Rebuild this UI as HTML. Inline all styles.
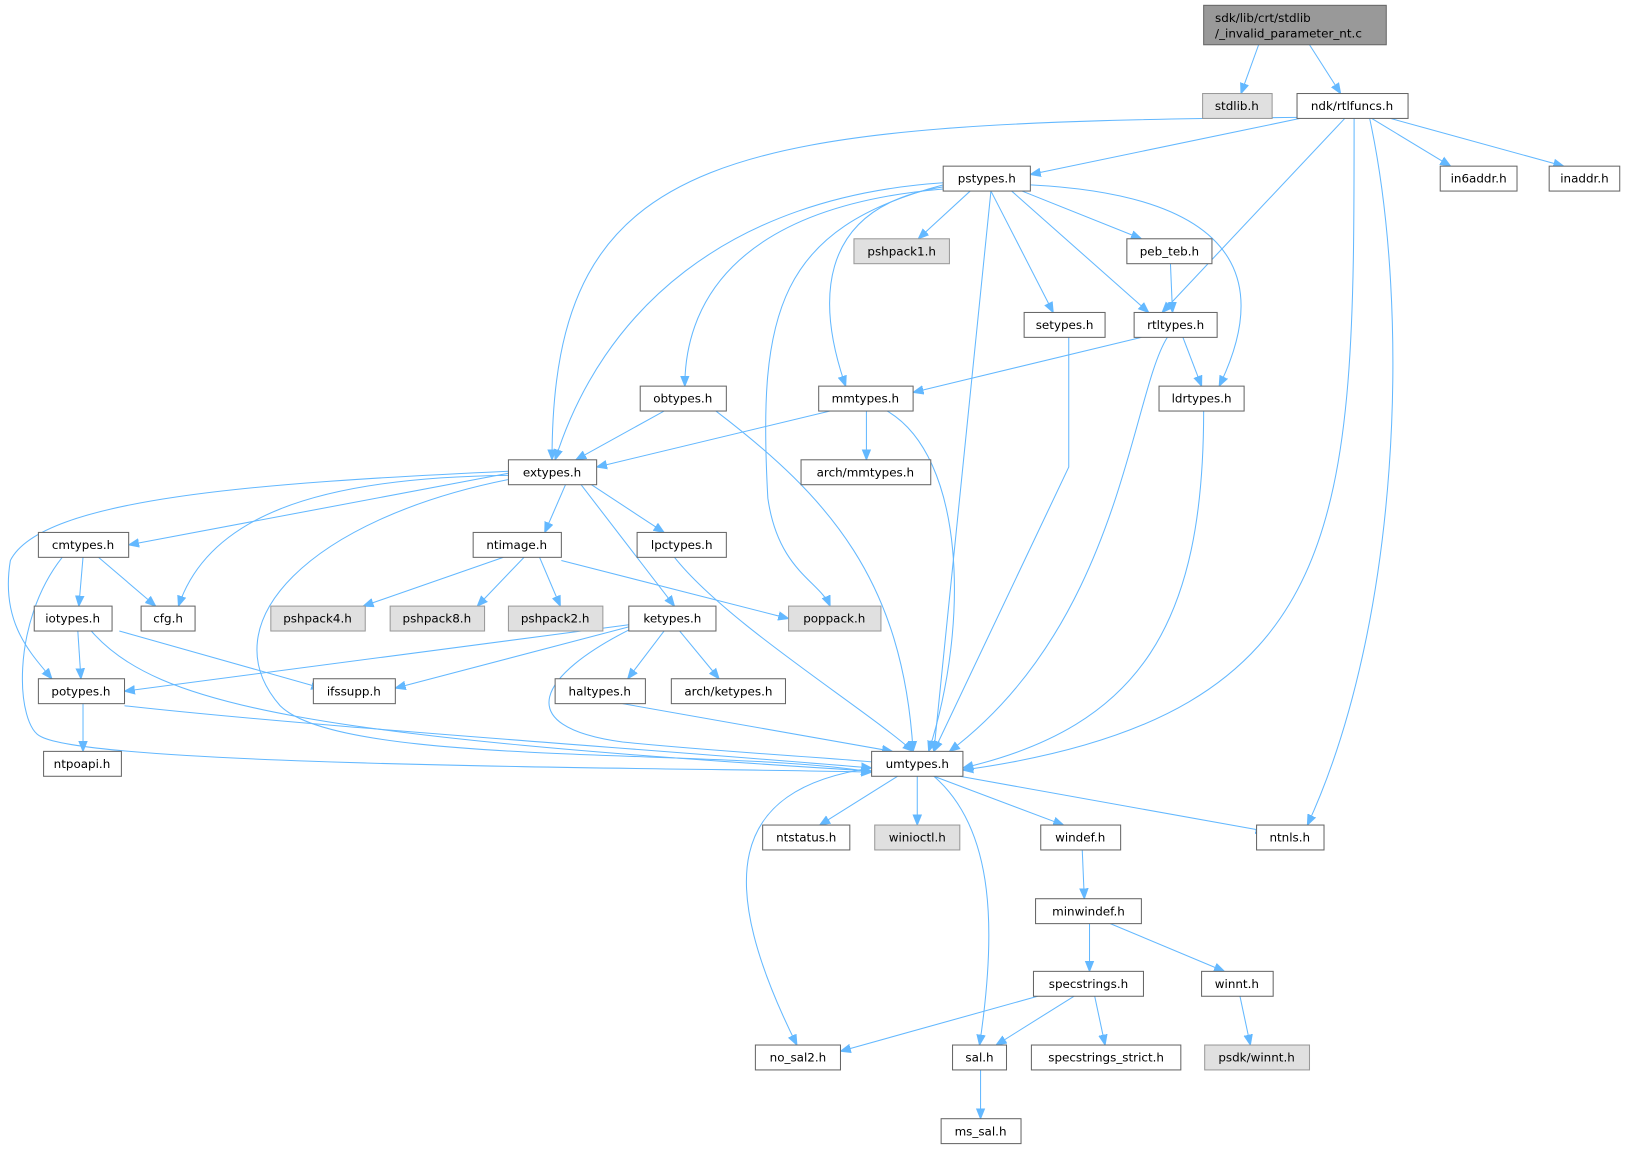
<!DOCTYPE html>
<html><head><meta charset="utf-8"><style>
html,body{margin:0;padding:0;background:#fff}
svg{display:block}
text{font-family:"DejaVu Sans","Liberation Sans",sans-serif;font-size:11.5px;fill:#000;text-anchor:middle}
.n{fill:#fff;stroke:#666;stroke-width:1}
.g{fill:#e0e0e0;stroke:#999;stroke-width:1}
.e{fill:none;stroke:#63b8ff;stroke-width:1}
</style></head><body>
<svg width="1627" height="1151" viewBox="0 0 1568 1109" xmlns="http://www.w3.org/2000/svg">
<defs><marker id="a" viewBox="0 0 10 10" refX="10" refY="5" markerWidth="10" markerHeight="10" markerUnits="userSpaceOnUse" orient="auto"><path d="M0,1 L10,5 L0,9 z" fill="#63b8ff" stroke="#63b8ff"/></marker></defs>
<g class="e" marker-end="url(#a)">
<path d="M1213,43 L1196,90"/>
<path d="M1262,43 L1292,90"/>
<path d="M1252,113 C700,118 532,140 532,443"/>
<path d="M1253,114 L993,168"/>
<path d="M1322,114 L1398,160"/>
<path d="M1340,114 L1507,160"/>
<path d="M1296,114 L1120,301"/>
<path d="M1305,114 C1305,500 1305,690 928,742"/>
<path d="M1320,114 C1360,300 1350,600 1260,795"/>
<path d="M935,184 L885,230"/>
<path d="M985,184 L1100,230"/>
<path d="M955,184 L1015,301"/>
<path d="M975,184 L1107,301"/>
<path d="M993,178 C1230,190 1210,300 1175,372"/>
<path d="M909,180 C780,200 790,300 815,372"/>
<path d="M909,182 C700,200 660,300 660,372"/>
<path d="M909,176 C700,190 580,300 535,443"/>
<path d="M909,178 C750,220 730,300 740,480 C750,550 790,560 800,584"/>
<path d="M955,184 L900,724"/>
<path d="M1128,254 L1130,301"/>
<path d="M1100,325 L880,378"/>
<path d="M1140,325 L1158,372"/>
<path d="M1125,325 C1090,380 1080,600 915,724"/>
<path d="M1030,325 L1030,450 L900,724"/>
<path d="M1160,396 C1160,600 1100,700 928,740"/>
<path d="M690,396 C800,480 870,560 880,724"/>
<path d="M640,396 L555,443"/>
<path d="M800,396 L575,450"/>
<path d="M835,396 L835,443"/>
<path d="M855,396 C930,440 935,600 895,724"/>
<path d="M490,456 L124,525"/>
<path d="M490,458 C300,460 200,500 172,584"/>
<path d="M490,454 C250,465 40,480 10,540 C0,600 30,630 50,654"/>
<path d="M545,467 L525,513"/>
<path d="M570,467 L640,513"/>
<path d="M560,467 L650,584"/>
<path d="M490,462 C300,500 200,600 270,680 C330,740 700,720 840,744"/>
<path d="M60,537 C10,600 15,700 40,710 C100,740 700,740 840,744"/>
<path d="M80,537 L76,584"/>
<path d="M95,537 L150,584"/>
<path d="M485,537 L350,584"/>
<path d="M505,537 L460,584"/>
<path d="M520,537 L540,584"/>
<path d="M541,540 L760,596"/>
<path d="M650,537 C700,600 830,680 880,724"/>
<path d="M75,608 L78,654"/>
<path d="M115,608 L310,663"/>
<path d="M88,608 C150,680 300,710 840,743"/>
<path d="M606,602 L120,666"/>
<path d="M606,604 L381,663"/>
<path d="M640,608 L605,654"/>
<path d="M655,608 L693,654"/>
<path d="M608,606 C520,650 490,700 600,715 C700,725 800,730 850,735"/>
<path d="M600,678 L860,724"/>
<path d="M80,678 L80,724"/>
<path d="M120,680 C300,700 600,720 840,740"/>
<path d="M865,748 L790,795"/>
<path d="M884,748 L884,795"/>
<path d="M900,748 L1025,795"/>
<path d="M925,748 L1220,801"/>
<path d="M840,740 C700,760 690,850 768,1007"/>
<path d="M900,748 C960,800 960,900 944,1007"/>
<path d="M1043,819 L1045,866"/>
<path d="M1050,890 L1050,936"/>
<path d="M1070,890 L1180,936"/>
<path d="M1000,960 L810,1013"/>
<path d="M1035,960 L960,1007"/>
<path d="M1055,960 L1065,1007"/>
<path d="M1195,960 L1205,1007"/>
<path d="M945,1031 L945,1078"/>
</g>
<rect x="1160" y="5" width="176" height="38" fill="#999" stroke="#666"/>
<text x="1171" y="21" style="text-anchor:start">sdk/lib/crt/stdlib</text>
<text x="1171" y="36" style="text-anchor:start">/_invalid_parameter_nt.c</text>
<g>
<rect class="g" x="1159" y="90" width="67" height="24"/><text x="1192" y="106">stdlib.h</text>
<rect class="n" x="1250" y="90" width="107" height="24"/><text x="1303" y="106">ndk/rtlfuncs.h</text>
<rect class="n" x="1388" y="160" width="74" height="24"/><text x="1425" y="176">in6addr.h</text>
<rect class="n" x="1493" y="160" width="68" height="24"/><text x="1527" y="176">inaddr.h</text>
<rect class="n" x="909" y="160" width="84" height="24"/><text x="951" y="176">pstypes.h</text>
<rect class="g" x="823" y="230" width="92" height="24"/><text x="869" y="246">pshpack1.h</text>
<rect class="n" x="1086" y="230" width="82" height="24"/><text x="1127" y="246">peb_teb.h</text>
<rect class="n" x="987" y="301" width="78" height="24"/><text x="1026" y="317">setypes.h</text>
<rect class="n" x="1093" y="301" width="80" height="24"/><text x="1133" y="317">rtltypes.h</text>
<rect class="n" x="617" y="372" width="83" height="24"/><text x="658" y="388">obtypes.h</text>
<rect class="n" x="789" y="372" width="91" height="24"/><text x="834" y="388">mmtypes.h</text>
<rect class="n" x="1117" y="372" width="82" height="24"/><text x="1158" y="388">ldrtypes.h</text>
<rect class="n" x="490" y="443" width="85" height="24"/><text x="532" y="459">extypes.h</text>
<rect class="n" x="772" y="443" width="125" height="24"/><text x="834" y="459">arch/mmtypes.h</text>
<rect class="n" x="37" y="513" width="87" height="24"/><text x="80" y="529">cmtypes.h</text>
<rect class="n" x="456" y="513" width="85" height="24"/><text x="498" y="529">ntimage.h</text>
<rect class="n" x="614" y="513" width="86" height="24"/><text x="657" y="529">lpctypes.h</text>
<rect class="n" x="136" y="584" width="52" height="24"/><text x="162" y="600">cfg.h</text>
<rect class="n" x="33" y="584" width="75" height="24"/><text x="70" y="600">iotypes.h</text>
<rect class="g" x="261" y="584" width="91" height="24"/><text x="306" y="600">pshpack4.h</text>
<rect class="g" x="376" y="584" width="91" height="24"/><text x="421" y="600">pshpack8.h</text>
<rect class="g" x="490" y="584" width="91" height="24"/><text x="535" y="600">pshpack2.h</text>
<rect class="n" x="606" y="584" width="84" height="24"/><text x="648" y="600">ketypes.h</text>
<rect class="g" x="760" y="584" width="89" height="24"/><text x="804" y="600">poppack.h</text>
<rect class="n" x="37" y="654" width="83" height="24"/><text x="78" y="670">potypes.h</text>
<rect class="n" x="302" y="654" width="79" height="24"/><text x="341" y="670">ifssupp.h</text>
<rect class="n" x="535" y="654" width="87" height="24"/><text x="578" y="670">haltypes.h</text>
<rect class="n" x="647" y="654" width="110" height="24"/><text x="702" y="670">arch/ketypes.h</text>
<rect class="n" x="840" y="724" width="88" height="24"/><text x="884" y="740">umtypes.h</text>
<rect class="n" x="42" y="724" width="75" height="24"/><text x="79" y="740">ntpoapi.h</text>
<rect class="n" x="735" y="795" width="84" height="24"/><text x="777" y="811">ntstatus.h</text>
<rect class="g" x="843" y="795" width="82" height="24"/><text x="884" y="811">winioctl.h</text>
<rect class="n" x="1003" y="795" width="77" height="24"/><text x="1041" y="811">windef.h</text>
<rect class="n" x="1211" y="795" width="65" height="24"/><text x="1243" y="811">ntnls.h</text>
<rect class="n" x="998" y="866" width="102" height="24"/><text x="1049" y="882">minwindef.h</text>
<rect class="n" x="996" y="936" width="106" height="24"/><text x="1049" y="952">specstrings.h</text>
<rect class="n" x="1158" y="936" width="69" height="24"/><text x="1192" y="952">winnt.h</text>
<rect class="n" x="728" y="1007" width="82" height="24"/><text x="769" y="1023">no_sal2.h</text>
<rect class="n" x="918" y="1007" width="52" height="24"/><text x="944" y="1023">sal.h</text>
<rect class="n" x="994" y="1007" width="144" height="24"/><text x="1066" y="1023">specstrings_strict.h</text>
<rect class="g" x="1161" y="1007" width="101" height="24"/><text x="1211" y="1023">psdk/winnt.h</text>
<rect class="n" x="907" y="1078" width="77" height="24"/><text x="945" y="1094">ms_sal.h</text>
</g>
</svg>
</body></html>
